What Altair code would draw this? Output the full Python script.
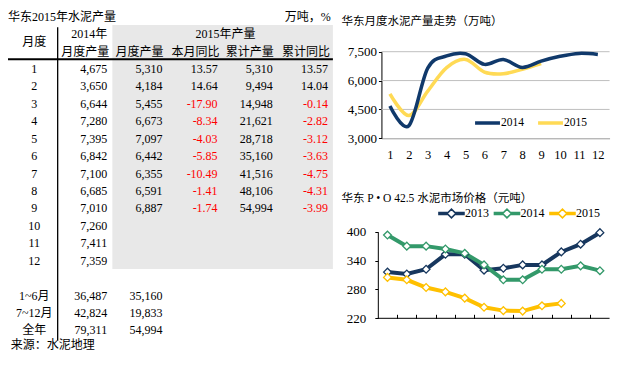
import altair as alt
import pandas as pd

# ---------------- data ----------------
months = [1, 2, 3, 4, 5, 6, 7, 8, 9, 10, 11, 12]
prod_2014 = [4675, 3650, 6644, 7280, 7395, 6842, 7100, 6685, 7010, 7260, 7411, 7359]
prod_2015 = [5310, 4184, 5455, 6673, 7097, 6442, 6355, 6591, 6887]
yoy_month = [13.57, 14.64, -17.90, -8.34, -4.03, -5.85, -10.49, -1.41, -1.74]
cum_2015 = [5310, 9494, 14948, 21621, 28718, 35160, 41516, 48106, 54994]
yoy_cum = [13.57, 14.04, -0.14, -2.82, -3.12, -3.63, -4.75, -4.31, -3.99]
summary_labels = ["1~6月", "7~12月", "全年"]
summary_2014 = [36487, 42824, 79311]
summary_2015 = [35160, 19833, 54994]

series_prod = ["2014", "2015"]
prod_ticks = [3000, 4500, 6000, 7500]

series_price = ["2013", "2014", "2015"]
price_2013 = [316, 312, 322, 353, 353, 320, 324, 331, 331, 358, 374, 398]
price_2014 = [393, 370, 370, 364, 355, 331, 300, 300, 322, 322, 329, 319]
price_2015 = [305, 300, 284, 275, 262, 243, 236, 235, 246, 251]
price_ticks = [220, 280, 340, 400]

# ---------------- styling / layout ----------------
FONT = "Liberation Serif, Noto Sans CJK SC"
RED = "#FF0000"
GRAYBG = "#E8E8E8"
NAVY = "#10396B"
YELLOW = "#FFDA55"
NAVY2 = "#17375E"
GREEN = "#33996A"
GOLD = "#FFC000"

W, H = 604, 344
KX = 0.975


def fx(x):
    return round(KX * x, 2)


def fy(y):
    return y - 8


one = pd.DataFrame({"k": [0]})

# table scales: column index -> right edge, row index -> centre line
TX = alt.Scale(domain=[2, 6], range=[fx(101.7), fx(328.3)], zero=False, nice=False)
TY = alt.Scale(domain=[1, 12], range=[fy(69), fy(260.7)], zero=False, nice=False)


def label(text, col, row, align="right", dx=0, size=12, color="black"):
    return alt.Chart(one).mark_text(
        text=text, align=align, baseline="middle", dx=dx, font=FONT,
        fontSize=size, color=color
    ).encode(
        x=alt.X(datum=col, scale=TX, axis=None),
        y=alt.Y(datum=row, scale=TY, axis=None),
    )


layers = []

# gray background of the 2015 block
layers.append(
    alt.Chart(one).mark_rect(color=GRAYBG).encode(
        x=alt.X(datum=2.094, scale=TX, axis=None), x2=alt.X2(datum=6.087),
        y=alt.Y(datum=-1.52, scale=TY, axis=None), y2=alt.Y2(datum=12.47),
    )
)
# vertical separator
layers.append(
    alt.Chart(one).mark_rule(color="black", strokeWidth=1.3).encode(
        x=alt.X(datum=1.104, scale=TX, axis=None),
        y=alt.Y(datum=-1.4, scale=TY, axis=None), y2=alt.Y2(datum=16.6),
    )
)
# thick header rule
layers.append(
    alt.Chart(one).mark_rule(color="black", strokeWidth=2).encode(
        x=alt.X(datum=0.203, scale=TX, axis=None), x2=alt.X2(datum=6.087),
        y=alt.Y(datum=0.443, scale=TY, axis=None),
    )
)

# header / titles
layers += [
    label("华东2015年水泥产量", 0.203, -2, align="left"),
    label("万吨，%", 6.05, -2),
    label("月度", 0.68, -0.55, align="center"),
    label("2014年", 2, -1),
    label("2015年产量", 4.143, -1, align="center"),
    label("月度产量", 2, 0, dx=2),
    label("月度产量", 3, 0, dx=1),
    label("本月同比", 4, 0, dx=2),
    label("累计产量", 5, 0, dx=1),
    label("累计同比", 6, 0, dx=2),
    label("来源：水泥地理", 0.256, 16.85, align="left"),
]

# row labels (months + summary)
row_df = pd.DataFrame({
    "row": months + [14, 15, 16],
    "txt": [str(m) for m in months] + summary_labels,
})
layers.append(
    alt.Chart(row_df).mark_text(align="center", baseline="middle", font=FONT, fontSize=12).encode(
        x=alt.X(datum=0.68, scale=TX, axis=None),
        y=alt.Y("row:Q", scale=TY, axis=None),
        text="txt:N",
    )
)

# table cells
cells = []
for i, m in enumerate(months):
    cells.append(dict(row=m, col=2, txt=f"{prod_2014[i]:,}", clr="black"))
for i in range(len(prod_2015)):
    m = months[i]
    cells.append(dict(row=m, col=3, txt=f"{prod_2015[i]:,}", clr="black"))
    cells.append(dict(row=m, col=4, txt=f"{yoy_month[i]:.2f}", clr=RED if yoy_month[i] < 0 else "black"))
    cells.append(dict(row=m, col=5, txt=f"{cum_2015[i]:,}", clr="black"))
    cells.append(dict(row=m, col=6, txt=f"{yoy_cum[i]:.2f}", clr=RED if yoy_cum[i] < 0 else "black"))
for j in range(3):
    cells.append(dict(row=14 + j, col=2, txt=f"{summary_2014[j]:,}", clr="black"))
    cells.append(dict(row=14 + j, col=3, txt=f"{summary_2015[j]:,}", clr="black"))
cells_df = pd.DataFrame(cells)
layers.append(
    alt.Chart(cells_df).mark_text(align="right", baseline="middle", font=FONT, fontSize=12).encode(
        x=alt.X("col:Q", scale=TX, axis=None),
        y=alt.Y("row:Q", scale=TY, axis=None),
        text="txt:N",
        color=alt.Color("clr:N", scale=None),
    )
)

# ---------------- top chart: monthly production ----------------
AX = alt.Scale(domain=[0.55, 12.62], range=[fx(383), fx(617)], zero=False, nice=False)
AY = alt.Scale(domain=[3000, 7500], range=[fy(138.3), fy(51.7)], zero=False, nice=False)

prod_df = pd.DataFrame({
    "month": months[:len(prod_2015)] + months,
    "value": prod_2015 + prod_2014,
    "series": [series_prod[1]] * len(prod_2015) + [series_prod[0]] * len(prod_2014),
})

BAR_PATH = "M-1,-0.07L1,-0.07L1,0.07L-1,0.07Z"

layers.append(
    alt.Chart(pd.DataFrame({"v": prod_ticks[1:]})).mark_rule(color="#BFBFBF", strokeWidth=1).encode(
        y=alt.Y("v:Q", scale=AY, axis=None),
        x=alt.X(datum=0.55, scale=AX, axis=None), x2=alt.X2(datum=12.62),
    )
)
layers.append(
    alt.Chart(one).mark_text(text="华东月度水泥产量走势（万吨）", align="left", baseline="middle",
                             font=FONT, fontSize=11.5, dx=-40, dy=-30).encode(
        x=alt.X(datum=0.55, scale=AX, axis=None),
        y=alt.Y(datum=7500, scale=AY, axis=None),
    )
)
layers.append(
    alt.Chart(prod_df).mark_line(interpolate="cardinal", tension=0, strokeWidth=3.5).encode(
        x=alt.X("month:Q", scale=AX, axis=alt.Axis(
            orient="bottom", offset=fy(138.3) - H, values=months, ticks=False, grid=False,
            domainColor="#9A9A9A", labelFont=FONT, labelFontSize=12.5, labelColor="black",
            labelPadding=10, labelFlush=False, title=None)),
        y=alt.Y("value:Q", scale=AY, axis=alt.Axis(
            orient="left", offset=-fx(383), values=prod_ticks, format=",.0f", grid=False,
            domainColor="black", tickColor="black", tickSize=3, labelFont=FONT,
            labelFontSize=13, labelColor="black", labelPadding=2, title=None)),
        color=alt.Color("series:N", title=None,
                        scale=alt.Scale(domain=series_prod, range=[NAVY, YELLOW]),
                        legend=alt.Legend(orient="none", legendX=fx(479), legendY=fy(122) - 11.5,
                                          direction="horizontal", symbolType=BAR_PATH,
                                          symbolStrokeWidth=1.9, symbolSize=529,
                                          labelFont=FONT, labelFontSize=11.5, labelColor="black",
                                          labelOffset=1, columnPadding=11, padding=0)),
        detail="series:N",
    )
)

# ---------------- bottom chart: cement price ----------------
BX = alt.Scale(domain=[0.5, 12.5], range=[fx(379.3), fx(617)], zero=False, nice=False)
BY = alt.Scale(domain=[220, 400], range=[fy(318.3), fy(231.7)], zero=False, nice=False)

price_df = pd.DataFrame({
    "month": months + months + months[:len(price_2015)],
    "value": price_2013 + price_2014 + price_2015,
    "series": [series_price[0]] * 12 + [series_price[1]] * 12 + [series_price[2]] * len(price_2015),
})
price_colors = alt.Scale(domain=series_price, range=[NAVY2, GREEN, GOLD])

LEG_PATH = ("M-1,-0.07L-0.35,-0.07L-0.35,0.07L-1,0.07Z"
            "M0.35,-0.07L1,-0.07L1,0.07L0.35,0.07Z"
            "M-0.35,0L0,-0.35L0.35,0L0,0.35Z")

layers.append(
    alt.Chart(one).mark_text(text="华东 P • O 42.5 水泥市场价格（元吨）", align="left", baseline="middle",
                             font=FONT, fontSize=11.5, dx=-36.4, dy=-33).encode(
        x=alt.X(datum=0.5, scale=BX, axis=None),
        y=alt.Y(datum=400, scale=BY, axis=None),
    )
)
layers.append(
    alt.Chart(one).mark_rule(color="black", strokeWidth=1).encode(
        x=alt.X(datum=0.5, scale=BX, axis=None), x2=alt.X2(datum=12.5),
        y=alt.Y(datum=220, scale=BY, axis=None),
    )
)
layers.append(
    alt.Chart(price_df).mark_line(strokeWidth=4).encode(
        x=alt.X("month:Q", scale=BX, axis=alt.Axis(
            orient="bottom", offset=fy(318.3) - 4 - H, values=[m + 0.5 for m in months[:-1]],
            labels=False, domain=False, ticks=True, tickSize=4, tickColor="black",
            grid=False, title=None)),
        y=alt.Y("value:Q", scale=BY, axis=alt.Axis(
            orient="left", offset=-fx(379.3), values=price_ticks, grid=False,
            domainColor="black", tickColor="black", tickSize=3, labelFont=FONT,
            labelFontSize=13, labelColor="black", labelPadding=9, title=None)),
        color=alt.Color("series:N", title=None, scale=price_colors,
                        legend=alt.Legend(orient="none", legendX=fx(441), legendY=fy(213) - 13.5,
                                          direction="horizontal", symbolType=LEG_PATH,
                                          symbolStrokeWidth=1.6, symbolSize=625,
                                          symbolFillColor="white",
                                          labelFont=FONT, labelFontSize=12, labelColor="black",
                                          labelOffset=0, columnPadding=1.5, padding=0)),
        detail="series:N",
    )
)
layers.append(
    alt.Chart(price_df).mark_point(shape="diamond", filled=True, fill="white", size=60,
                                   strokeWidth=1.3, opacity=1).encode(
        x=alt.X("month:Q", scale=BX, axis=None),
        y=alt.Y("value:Q", scale=BY, axis=None),
        stroke=alt.Stroke("series:N", scale=price_colors, legend=None),
    )
)

chart = alt.layer(*layers).resolve_scale(
    x="independent", y="independent", color="independent", stroke="independent"
).properties(
    width=W, height=H, padding=0, autosize=alt.AutoSizeParams(type="none"), background="white"
).configure_view(stroke="transparent")

chart.save("out.html", embed_options={"renderer": "svg", "actions": False})
